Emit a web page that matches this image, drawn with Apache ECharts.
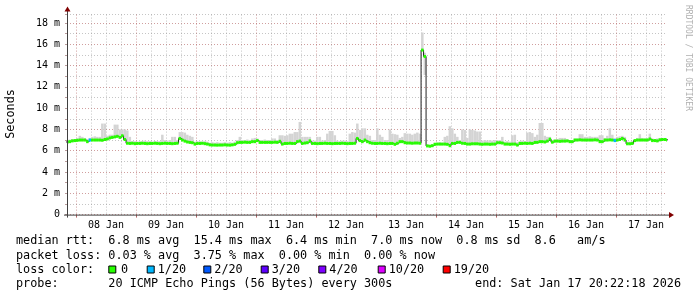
<!DOCTYPE html>
<html><head><meta charset="utf-8">
<script src="https://cdn.jsdelivr.net/npm/echarts@6/dist/echarts.min.js"></script>
<style>html,body{margin:0;padding:0;background:#fff}#c{width:697px;height:297px}</style>
</head><body><div id="c"></div>
<script>
// ---- data (hours counted from Jan 7 00:00) ----
const firstHour = 20;                 // median[0] covers Jan 7 20:00-21:00
const viewStart = 20.3717;            // Jan 7 20:22:18
const viewEnd = 260.3717;             // Jan 17 20:22:18
const dayLabels = ['08 Jan','09 Jan','10 Jan','11 Jan','12 Jan','13 Jan','14 Jan','15 Jan','16 Jan','17 Jan'];
const yTickValues = [0,2,4,6,8,10,12,14,16,18];
const yTickLabels = ['0','2 m','4 m','6 m','8 m','10 m','12 m','14 m','16 m','18 m'];

const median = [
 6.82,6.85,6.92,6.95,
 6.97,7.0,7.0,7.0,6.85,7.0,7.0,7.0,7.0,7.0,6.98,7.05,7.1,7.2,7.25,7.3,7.35,7.25,7.4,7.05,6.7,6.68,6.7,6.66,
 6.68,6.68,6.7,6.68,6.66,6.68,6.68,6.7,6.68,6.66,6.68,6.7,6.68,6.68,6.66,6.68,6.7,7.15,7.0,6.9,6.82,6.78,6.75,6.62,
 6.68,6.68,6.7,6.66,6.62,6.55,6.53,6.53,6.52,6.53,6.53,6.55,6.53,6.52,6.55,6.6,6.75,6.78,6.78,6.8,6.78,6.78,6.85,6.85,
 6.95,6.78,6.78,6.78,6.78,6.78,6.78,6.8,6.78,6.88,6.62,6.68,6.68,6.7,6.68,6.68,6.85,6.9,6.68,6.72,6.75,6.92,6.68,6.68,
 6.66,6.68,6.68,6.7,6.68,6.68,6.66,6.68,6.68,6.68,6.7,6.68,6.66,6.68,6.68,6.7,7.15,6.95,6.85,7.0,6.85,6.75,6.7,6.68,
 6.68,6.7,6.68,6.68,6.66,6.68,6.68,6.6,6.7,6.85,6.85,6.75,6.72,6.72,6.7,6.72,6.72,6.7,15.45,14.85,6.45,6.42,6.47,6.6,
 6.62,6.62,6.62,6.62,6.6,6.47,6.68,6.68,6.78,6.78,6.7,6.68,6.62,6.62,6.65,6.65,6.65,6.62,6.6,6.62,6.62,6.6,6.62,6.62,
 6.75,6.75,6.72,6.62,6.62,6.6,6.62,6.62,6.53,6.68,6.68,6.7,6.68,6.7,6.68,6.78,6.78,6.85,6.85,6.82,6.9,7.08,6.8,6.9,
 6.9,6.88,6.9,6.9,6.92,6.85,6.85,7.0,7.0,7.02,7.0,7.0,7.0,7.0,7.0,7.02,7.0,6.85,6.85,7.0,7.0,7.02,7.0,6.95,
 7.0,7.05,7.15,7.0,6.65,6.65,6.68,6.95,7.0,7.0,7.0,7.0,7.0,7.1,6.95,6.95,6.92,7.02,7.05,7.05,7.0
];
const smokeHigh = [
 7.0,7.05,7.1,7.1,
 7.2,7.4,7.3,7.2,7.1,7.2,7.3,7.35,7.3,7.3,8.55,8.55,7.4,7.5,7.5,8.45,8.45,8.0,8.0,8.0,7.9,7.3,6.9,6.9,
 6.85,6.9,6.9,6.95,6.9,6.9,6.85,6.9,6.9,6.9,7.5,7.0,6.95,7.0,7.3,7.3,7.0,7.75,7.75,7.7,7.5,7.4,7.3,6.85,
 6.9,6.9,6.85,6.9,6.85,6.75,6.8,6.75,6.8,6.75,6.75,6.8,6.75,6.8,6.75,6.85,7.0,7.3,7.0,7.0,7.05,7.0,7.15,7.2,
 7.15,7.0,7.0,7.05,7.0,7.0,7.15,7.15,7.0,7.45,7.45,7.4,7.45,7.6,7.6,7.75,7.75,8.7,7.3,7.3,7.3,7.3,6.95,6.95,
 7.3,7.3,6.95,7.0,7.6,7.85,7.85,7.45,6.95,6.9,6.95,6.95,6.9,7.6,7.75,7.7,8.55,7.95,8.1,8.1,7.5,7.4,7.0,7.0,
 8.1,7.5,7.3,7.0,7.0,8.0,7.6,7.55,7.5,7.2,7.3,7.65,7.6,7.6,7.5,7.6,7.7,7.6,17.1,15.2,6.6,6.55,6.6,6.75,
 6.75,6.8,6.75,7.3,7.4,8.3,8.1,7.6,7.3,7.0,8.0,7.95,7.2,8.0,7.95,7.9,7.8,7.8,6.95,7.0,6.95,7.0,6.95,7.0,
 7.0,7.0,7.3,6.85,6.9,6.85,7.45,7.5,6.8,6.9,6.95,6.9,7.7,7.75,7.65,7.3,7.5,8.6,8.6,7.4,7.3,7.3,7.0,7.05,
 7.1,7.2,7.2,7.2,7.05,7.0,7.0,7.15,7.15,7.55,7.55,7.3,7.3,7.35,7.3,7.3,7.3,7.45,7.45,7.2,7.4,8.1,7.5,7.2,
 7.3,7.35,7.4,7.3,6.85,6.85,6.9,7.0,7.2,7.55,7.2,7.15,7.2,7.6,7.15,7.1,7.15,7.2,7.2,7.2,7.15
];
const smokeLowHours = [143];
const smokeLowValues = [13.1];
const lossHours = [9, 219];
const lossLevels = [1, 1];

const lossKeys = ['0','1/20','2/20','3/20','4/20','10/20','19/20'];
const lossLevelOf = [0, 1, 2, 3, 4, 10, 19];
const lossColors = ['#26ff00','#00b8ff','#0059ff','#5e00ff','#7e00ff','#dd00ff','#ff0000'];

const legendLine1 = 'median rtt:  6.8 ms avg  15.4 ms max  6.4 ms min  7.0 ms now  0.8 ms sd  8.6   am/s';
const legendLine2 = 'packet loss: 0.03 % avg  3.75 % max  0.00 % min  0.00 % now';
const legendLine3 = 'loss color:';
const legendLine4 = 'probe:       20 ICMP Echo Pings (56 Bytes) every 300s';
const legendEnd = 'end: Sat Jan 17 20:22:18 2026';
const yTitle = 'Seconds';
const watermark = 'RRDTOOL / TOBI OETIKER';

// ---- layout ----
const G = {left: 67, top: 14.6, width: 600, height: 200};
const MONO = 'DejaVu Sans Mono';
const LFONT = '11.8px "' + MONO + '"';

const n = median.length;
const lineData = median.map((v, i) => [firstHour + i, v]);
lineData.push([firstHour + n, median[n - 1]]);
const smokeData = median.map((v, i) => {
  const k = smokeLowHours.indexOf(i);
  return [firstHour + i, k >= 0 ? smokeLowValues[k] : v, smokeHigh[i]];
});
const segData = median.map((v, i) => {
  const k = lossHours.indexOf(i);
  return [firstHour + i, v, k >= 0 ? lossLevels[k] : 0];
});

const sixHours = []; for (let h = 24; h < viewEnd; h += 6) sixHours.push(h);
const midnights = []; for (let h = 24; h < viewEnd; h += 24) midnights.push(h);
const noonHours = dayLabels.map((d, k) => 36 + 24 * k);

function clip(r, params) {
  const cs = params.coordSys;
  return echarts.graphic.clipRectByRect(r, {x: cs.x, y: cs.y, width: cs.width, height: cs.height});
}
function renderSmoke(params, api) {
  const x0 = api.value(0), lo = api.value(1), hi = api.value(2);
  const p1 = api.coord([x0, hi]), p2 = api.coord([x0 + 1, lo]);
  const r = clip({x: p1[0], y: p1[1], width: p2[0] - p1[0], height: p2[1] - p1[1]}, params);
  return r && {type: 'rect', shape: r, style: {fill: '#d4d4d4'}};
}
function renderSeg(params, api) {
  const x0 = api.value(0), v = api.value(1), lv = api.value(2);
  const p1 = api.coord([x0, v]), p2 = api.coord([x0 + 1, v]);
  const r = clip({x: p1[0], y: p1[1] - 1.5, width: p2[0] - p1[0], height: 3}, params);
  const idx = lossLevelOf.indexOf(lv);
  return r && {type: 'rect', shape: r, style: {fill: lossColors[idx]}};
}

const chart = echarts.init(document.getElementById('c'), null, {renderer: 'canvas'});

const graphics = [];
const T = (text, x, y, extra) => Object.assign({type: 'text', x: x, y: y, silent: true,
  style: Object.assign({text: text, font: LFONT, fill: '#000', verticalAlign: 'middle', align: 'left'}, extra || {})});
graphics.push(T(legendLine1, 16, 241));
graphics.push(T(legendLine2, 16, 255.5));
graphics.push(T(legendLine3, 16, 269.5));
graphics.push(T(legendLine4, 16, 283.5));
graphics.push(T(legendEnd, 681, 283.5, {align: 'right'}));
const sqX = [108.3, 146.7, 203.3, 260.7, 318.3, 377.7, 442.7];
const lbX = [121, 157.7, 214.3, 271.7, 329.3, 388.7, 453.7];
lossKeys.forEach((k, j) => {
  graphics.push({type: 'rect', silent: true, shape: {x: sqX[j] + 0.5, y: 266, width: 7, height: 7},
    style: {fill: lossColors[j], stroke: '#000', lineWidth: 1}});
  graphics.push(T(k, lbX[j], 269.5));
});
graphics.push({type: 'text', x: 11, y: 114, rotation: Math.PI / 2, silent: true,
  style: {text: yTitle, font: LFONT, fill: '#000', align: 'center', verticalAlign: 'middle'}});
graphics.push({type: 'text', x: 688, y: 5, rotation: -Math.PI / 2, silent: true,
  style: {text: watermark, font: '8px "' + MONO + '"', fill: '#b0b0b0', align: 'left', verticalAlign: 'middle'}});
// axis lines with arrows
const x0 = G.left, yb = G.top + G.height;
graphics.push({type: 'line', silent: true, shape: {x1: x0 - 3, y1: yb + 0.5, x2: x0 + G.width + 3, y2: yb + 0.5}, style: {stroke: '#404040', lineWidth: 1}, z: 50});
graphics.push({type: 'line', silent: true, shape: {x1: x0 + 0.5, y1: yb + 3, x2: x0 + 0.5, y2: G.top - 5}, style: {stroke: '#404040', lineWidth: 1}, z: 50});
graphics.push({type: 'polygon', silent: true, shape: {points: [[x0 + G.width + 2, yb - 2.5], [x0 + G.width + 7, yb + 0.5], [x0 + G.width + 2, yb + 3.5]]}, style: {fill: '#800000'}, z: 51});
graphics.push({type: 'polygon', silent: true, shape: {points: [[x0 - 2.5, G.top - 3], [x0 + 0.5, G.top - 8], [x0 + 3.5, G.top - 3]]}, style: {fill: '#800000'}, z: 51});

const MAJ = 'rgba(150,40,40,0.45)', MIN = 'rgba(140,140,140,0.5)';

chart.setOption({
  animation: false,
  backgroundColor: '#ffffff',
  grid: {left: G.left, top: G.top, width: G.width, height: G.height, containLabel: false},
  xAxis: [{
    type: 'value', min: viewStart, max: viewEnd,
    axisLine: {show: false},
    axisTick: {show: false, customValues: sixHours},
    axisLabel: {customValues: noonHours, margin: 6, fontSize: 10, fontFamily: MONO, color: '#000',
      formatter: v => dayLabels[Math.round((v - 36) / 24)]},
    splitLine: {show: true, lineStyle: {color: [MAJ, MIN, MIN, MIN], type: [1, 2], width: 1}}
  }, {
    type: 'value', min: viewStart, max: viewEnd, position: 'bottom',
    axisLine: {show: false}, splitLine: {show: false},
    axisTick: {show: true, inside: false, length: 3, customValues: midnights, lineStyle: {color: 'rgba(150,40,40,0.7)'}},
    axisLabel: {show: false}
  }],
  yAxis: {
    type: 'value', min: 0, max: 18.78, interval: 1,
    axisLine: {show: false},
    axisTick: {show: true, length: 2, lineStyle: {color: 'rgba(140,90,90,0.6)'}},
    axisLabel: {margin: 7, fontSize: 10, fontFamily: MONO, color: '#000',
      formatter: v => { const k = yTickValues.indexOf(v); return k >= 0 ? yTickLabels[k] : ''; }},
    splitLine: {show: true, lineStyle: {color: [MAJ, MIN], type: [1, 2], width: 1}}
  },
  series: [
    {type: 'custom', name: 'smoke', renderItem: renderSmoke, data: smokeData, z: 2, silent: true},
    {type: 'line', name: 'median', data: lineData, step: 'end', symbol: 'none', z: 3, silent: true,
      lineStyle: {color: '#202020', width: 1}},
    {type: 'custom', name: 'loss', renderItem: renderSeg, data: segData, z: 4, silent: true}
  ],
  graphic: graphics
});
</script></body></html>
